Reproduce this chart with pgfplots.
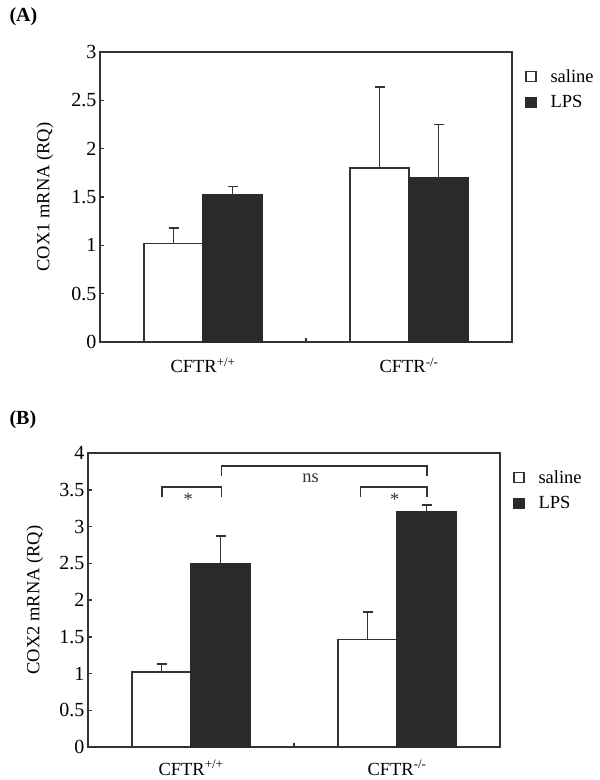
\documentclass[border=0pt]{standalone}
\usepackage{fontspec}
\setmainfont{Liberation Serif}
\usepackage{pgfplots}
\pgfplotsset{compat=1.18}
\definecolor{barfill}{HTML}{2A2A2A}
\definecolor{linec}{HTML}{333333}
\newcommand{\lbl}{\fontsize{18.5}{22}\selectfont}
\newcommand{\tck}{\fontsize{20}{24}\selectfont}
\pgfplotsset{
  panel/.style={
    scale only axis, width=412pt,
    xmin=-0.5, xmax=1.5, ymin=0,
    ybar=0pt, bar width=59pt,
    clip=false,
    axis line style={line width=1.5pt, draw=linec},
    tick align=inside, xtick pos=lower, ytick pos=left,
    major tick length=4pt,
    tick style={line width=1.5pt, draw=linec},
    xtick={0.5}, xticklabels={},
    extra x ticks={0,1},
    extra x tick labels={CFTR\textsuperscript{+/+}, CFTR\textsuperscript{-/-}},
    extra x tick style={major tick length=0pt},
    xticklabel style={font=\lbl, anchor=base},
    yticklabel style={font=\tck},
    /pgf/number format/assume math mode=true,
    ylabel style={font=\lbl, anchor=center, rotate=0},
    legend image code/.code={\draw[#1, line width=1.3pt] (0pt,-5pt) rectangle (10pt,5pt);},
    legend style={at={(axis description cs:1,1)}, anchor=north west,
      xshift=13pt, yshift=-15pt, draw=none, fill=none, font=\lbl,
      inner sep=0pt, row sep=8pt, legend cell align=left,
      /tikz/every odd column/.append style={column sep=12pt}},
    error bars/error bar style={line width=1.5pt, draw=linec},
    error bars/error mark options={rotate=90, mark size=5pt, line width=1.5pt, draw=linec},
  },
  saline/.style={fill=white, draw=linec, line width=1.5pt,
    error bars/.cd, y dir=plus, y explicit},
  lps/.style={fill=barfill, draw=barfill, line width=1.5pt,
    error bars/.cd, y dir=plus, y explicit},
}
\begin{document}
\begin{tikzpicture}
\useasboundingbox (0,0) rectangle (600pt,780pt);
\fill[white] (0,0) rectangle (600pt,780pt);
\node[anchor=west, font=\bfseries\fontsize{20}{24}\selectfont] at (6pt,763pt) {(A)};
\node[anchor=west, font=\bfseries\fontsize{20}{24}\selectfont] at (6pt,360pt) {(B)};

\begin{axis}[panel, at={(100pt,438pt)}, anchor=south west, height=290pt,
  ymax=3, ytick={0,0.5,1,1.5,2,2.5,3},
  xticklabel style={yshift=-31pt},
  ylabel={COX1 mRNA (RQ)},
  ylabel style={at={(axis description cs:-0.1335,0.5)}, rotate=0}]
\addplot[saline] coordinates {(0,1.02) +- (0,0.16) (1,1.80) +- (0,0.84)};
\addplot[lps] coordinates {(0,1.52) +- (0,0.09) (1,1.70) +- (0,0.55)};
\legend{saline,LPS}
\end{axis}

\begin{axis}[panel, at={(88pt,33pt)}, anchor=south west, height=294pt,
  ymax=4, ytick={0,0.5,1,1.5,2,2.5,3,3.5,4},
  xticklabel style={yshift=-28pt},
  ylabel={COX2 mRNA (RQ)},
  ylabel style={at={(axis description cs:-0.1286,0.5)}}]
\addplot[saline] coordinates {(0,1.02) +- (0,0.11) (1,1.46) +- (0,0.38)};
\addplot[lps] coordinates {(0,2.50) +- (0,0.37) (1,3.20) +- (0,0.09)};
\legend{saline,LPS}
\draw[line width=1.5pt, linec] (axis cs:-0.14,3.40) -- (axis cs:-0.14,3.54) -- (axis cs:0.147,3.54) -- (axis cs:0.147,3.40);
\draw[line width=1.5pt, linec] (axis cs:0.824,3.40) -- (axis cs:0.824,3.54) -- (axis cs:1.145,3.54) -- (axis cs:1.145,3.40);
\draw[line width=1.5pt, linec] (axis cs:0.147,3.69) -- (axis cs:0.147,3.82) -- (axis cs:1.145,3.82) -- (axis cs:1.145,3.69);
\node[font=\lbl, text=linec] at (axis cs:-0.013,3.37) {*};
\node[font=\lbl, text=linec] at (axis cs:0.989,3.37) {*};
\node[font=\lbl, text=linec] at (axis cs:0.58,3.65) {ns};
\end{axis}
\end{tikzpicture}
\end{document}
